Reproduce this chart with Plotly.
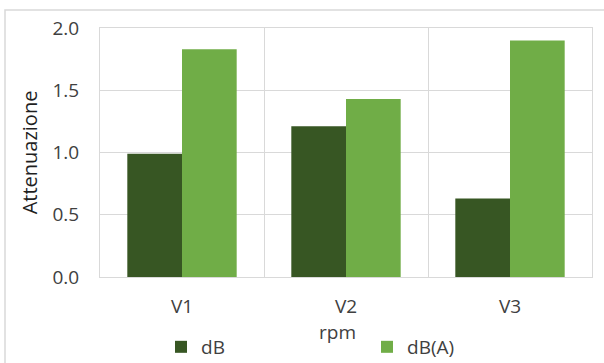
import plotly.graph_objects as go

categories = ["V1", "V2", "V3"]
db_values = [0.99, 1.21, 0.63]
dba_values = [1.83, 1.43, 1.90]
series_names = ["dB", "dB(A)"]
y_ticks = [0.0, 0.5, 1.0, 1.5, 2.0]
x_title = "rpm"
y_title = "Attenuazione"

FONT = "Open Sans"
TXT = "#404040"
GRID = "#d9d9d9"
FS = 19

fig = go.Figure()
fig.add_trace(go.Bar(x=categories, y=db_values, name=series_names[0],
                     marker=dict(color="#375623", line=dict(width=0))))
fig.add_trace(go.Bar(x=categories, y=dba_values, name=series_names[1],
                     marker=dict(color="#70AD47", line=dict(width=0))))

fig.update_layout(
    width=604, height=363,
    margin=dict(l=100, r=12, t=28, b=86, autoexpand=False),
    paper_bgcolor="white", plot_bgcolor="white",
    barmode="group", bargap=0.333, bargroupgap=0,
    font=dict(family=FONT, size=FS, color=TXT),
    showlegend=True,
    legend=dict(orientation="h", x=0.124, y=-0.281, xanchor="left", yanchor="middle",
                entrywidth=161, entrywidthmode="pixels",
                font=dict(family=FONT, size=FS, color=TXT),
                itemwidth=30, bgcolor="rgba(0,0,0,0)"),
    xaxis=dict(
        tickson="boundaries", showgrid=True, gridcolor=GRID, gridwidth=1,
        showline=True, linecolor=GRID, linewidth=1, mirror=True,
        ticks="", tickfont=dict(family=FONT, size=FS, color=TXT),
        ticklabelstandoff=12, automargin=False,
    ),
    yaxis=dict(
        title=dict(text=y_title, font=dict(family=FONT, size=20, color="#1f1f1f"), standoff=9),
        range=[0, 2.0], tickvals=y_ticks, tickformat=".1f",
        showgrid=True, gridcolor=GRID, gridwidth=1,
        showline=True, linecolor=GRID, linewidth=1, mirror=True,
        ticks="", tickfont=dict(family=FONT, size=FS, color=TXT),
        ticklabelstandoff=16, zeroline=False, automargin=False,
    ),
    annotations=[dict(text=x_title, xref="paper", yref="paper", x=0.482, y=-0.219,
                      xanchor="center", yanchor="middle", showarrow=False,
                      font=dict(family=FONT, size=FS, color=TXT))],
    shapes=[dict(type="rect", xref="paper", yref="paper",
                 x0=-0.1931, x1=1.2, y0=-0.6, y1=1.0723,
                 line=dict(color=GRID, width=1.5), fillcolor="rgba(0,0,0,0)", layer="below")],
)

fig.write_html("out.html", config={"displayModeBar": False},
               post_script="document.body.style.margin='0px';document.body.style.overflow='hidden';")
